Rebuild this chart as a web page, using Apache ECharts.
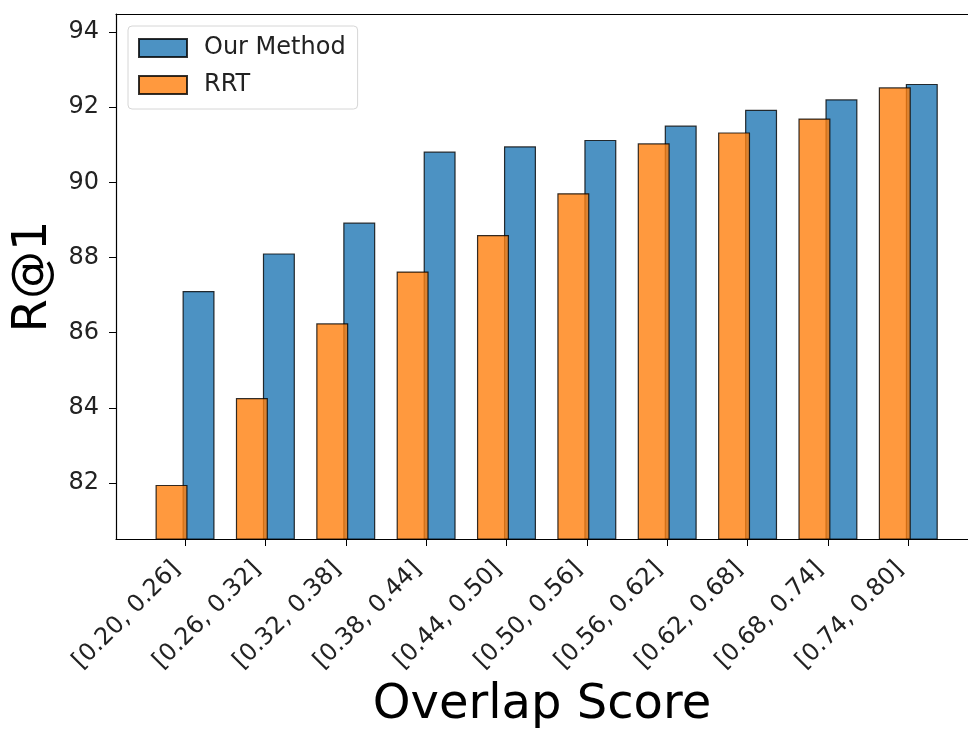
<!DOCTYPE html>
<html>
<head>
<meta charset="utf-8">
<script src="https://cdn.jsdelivr.net/npm/echarts@6/dist/echarts.min.js"></script>
<style>
  html, body { margin: 0; padding: 0; background: #fff; }
  #chart { width: 968px; height: 731px; }
</style>
</head>
<body>
<div id="chart"></div>
<script>
// Overlap score bins
const categories = [
  '[0.20, 0.26]', '[0.26, 0.32]', '[0.32, 0.38]', '[0.38, 0.44]', '[0.44, 0.50]',
  '[0.50, 0.56]', '[0.56, 0.62]', '[0.62, 0.68]', '[0.68, 0.74]', '[0.74, 0.80]'
];
// R@1 per bin
const ourMethod = [87.11, 88.11, 88.93, 90.82, 90.96, 91.13, 91.51, 91.93, 92.21, 92.62];
const rrt       = [81.95, 84.26, 86.25, 87.63, 88.60, 89.71, 91.04, 91.33, 91.70, 92.53];
// Y tick labels
const yTicks = [82, 84, 86, 88, 90, 92, 94];

const font = 'DejaVu Sans';
const catIdx = categories.map((_, i) => i);
const xMin = -0.859, xMax = 9.743;

const chart = echarts.init(document.getElementById('chart'), null, { renderer: 'canvas' });

chart.setOption({
  animation: false,
  backgroundColor: '#fff',
  grid: { left: 116, right: 0, top: 14, bottom: 192, containLabel: false, outerBoundsMode: 'none' },
  legend: {
    data: ['Our Method', 'RRT'],
    orient: 'vertical',
    left: 128, top: 26,
    padding: [10, 12, 12, 10],
    icon: 'rect',
    itemWidth: 48, itemHeight: 18, itemGap: 13,
    backgroundColor: '#fff',
    borderColor: '#d6d6d6', borderWidth: 1, borderRadius: 4,
    textStyle: { fontFamily: font, fontSize: 24, color: '#222', padding: [0, 0, 0, 12] }
  },
  xAxis: [{
    type: 'value',
    min: xMin, max: xMax,
    position: 'bottom',
    name: 'Overlap Score',
    nameLocation: 'middle',
    nameGap: 143,
    nameTextStyle: { fontFamily: font, fontSize: 48, color: '#000' },
    axisLine: { show: true, onZero: false, lineStyle: { color: '#000', width: 1.2 } },
    axisTick: { show: true, length: 7, customValues: catIdx, lineStyle: { color: '#000' } },
    axisLabel: {
      show: true, rotate: 45, margin: 18, customValues: catIdx,
      padding: [0, 12, 0, 0],
      fontFamily: font, fontSize: 24, color: '#222',
      formatter: v => categories[Math.round(v)] || ''
    },
    splitLine: { show: false }
  }, {
    type: 'value',
    min: xMin, max: xMax,
    position: 'top',
    axisLine: { show: true, onZero: false, lineStyle: { color: '#000', width: 1.2 } },
    axisTick: { show: false },
    axisLabel: { show: false },
    splitLine: { show: false }
  }],
  yAxis: {
    type: 'value',
    min: 80.51, max: 94.48,
    name: 'R@1',
    nameLocation: 'middle',
    nameGap: 55,
    nameTextStyle: { fontFamily: font, fontSize: 48, color: '#000' },
    axisLine: { show: true, onZero: false, lineStyle: { color: '#000', width: 1.2 } },
    axisTick: { show: true, length: 7, customValues: yTicks, lineStyle: { color: '#000' } },
    axisLabel: {
      show: true, margin: 17, customValues: yTicks,
      fontFamily: font, fontSize: 24, color: '#222'
    },
    splitLine: { show: false }
  },
  series: [{
    name: 'RRT',
    type: 'bar',
    xAxisIndex: 0,
    z: 3,
    barWidth: 32,
    barGap: '-15.6%',
    itemStyle: { color: 'rgba(255,127,14,0.8)', borderColor: 'rgba(0,0,0,0.8)', borderWidth: 1.2 },
    data: rrt.map((v, i) => [i, v])
  }, {
    name: 'Our Method',
    type: 'bar',
    xAxisIndex: 0,
    z: 2,
    barWidth: 32,
    barGap: '-15.6%',
    itemStyle: { color: 'rgba(31,119,180,0.8)', borderColor: 'rgba(0,0,0,0.8)', borderWidth: 1.2 },
    data: ourMethod.map((v, i) => [i, v])
  }]
});
</script>
</body>
</html>
